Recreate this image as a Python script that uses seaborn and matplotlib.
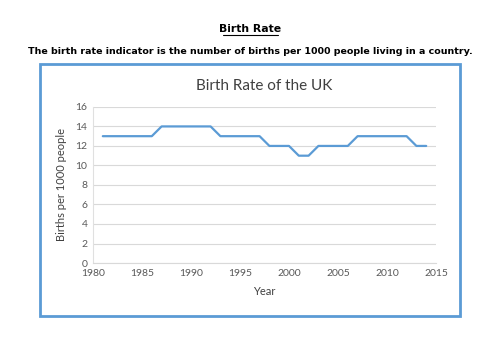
import matplotlib
matplotlib.use("Agg")
import matplotlib.pyplot as plt
import seaborn as sns
import pandas as pd
from matplotlib.patches import Rectangle

years = list(range(1981, 2015))
birth_rate = [13, 13, 13, 13, 13, 13, 14, 14, 14, 14, 14, 14, 13, 13, 13, 13, 13,
              12, 12, 12, 11, 11, 12, 12, 12, 12, 13, 13, 13, 13, 13, 13, 12, 12]
x_ticks = [1980, 1985, 1990, 1995, 2000, 2005, 2010, 2015]
y_ticks = [0, 2, 4, 6, 8, 10, 12, 14, 16]

df = pd.DataFrame({"Year": years, "Rate": birth_rate})

sns.set_theme(style="white")
plt.rcParams['font.family'] = ['Lato', 'DejaVu Sans']

fig = plt.figure(figsize=(5, 3.54), dpi=100)
fig.patch.set_facecolor("white")

# page heading
fig.text(0.5, 1 - 29 / 354, "Birth Rate", ha="center", va="center",
         fontsize=7.8, fontweight="bold", family="DejaVu Sans", color="black")
fig.add_artist(plt.Line2D([0.445, 0.555], [1 - 34.5 / 354, 1 - 34.5 / 354],
                          color="black", lw=0.8, transform=fig.transFigure))
fig.text(0.5, 1 - 51 / 354,
         "The birth rate indicator is the number of births per 1000 people living in a country.",
         ha="center", va="center", fontsize=6.8, fontweight="bold",
         family="DejaVu Sans", color="black")

# blue frame
fig.add_artist(Rectangle((0.08, 0.107), 0.84, 0.712, transform=fig.transFigure,
                         fill=False, edgecolor="#5B9BD5", linewidth=2.0))

ax = fig.add_axes([0.186, 0.257, 0.686, 0.441])
sns.lineplot(data=df, x="Year", y="Rate", ax=ax, color="#5B9BD5", linewidth=1.6)

ax.set_xlim(1980, 2015)
ax.set_ylim(0, 16)
ax.set_xticks(x_ticks)
ax.set_yticks(y_ticks)
ax.tick_params(axis="both", labelsize=7.5, colors="#595959", length=0, pad=4)
ax.grid(axis="y", color="#D9D9D9", linewidth=0.8)
ax.grid(axis="x", visible=False)
for s in ["top", "right"]:
    ax.spines[s].set_visible(False)
ax.spines["left"].set_color("#E0E0E0")
ax.spines["bottom"].set_color("#D9D9D9")
ax.spines["left"].set_linewidth(0.8)
ax.spines["bottom"].set_linewidth(0.8)

ax.set_xlabel("Year", fontsize=8, color="#404040", labelpad=6)
ax.set_ylabel("Births per 1000 people", fontsize=8, color="#404040", labelpad=6)
ax.set_title("Birth Rate of the UK", fontsize=11, color="#404040", pad=12)

fig.savefig("out.png", dpi=100, facecolor="white")
